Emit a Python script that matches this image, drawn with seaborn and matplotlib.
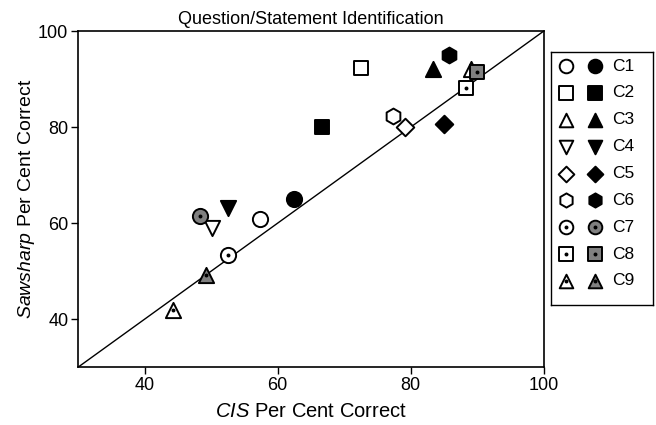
import matplotlib
matplotlib.use("Agg")
import matplotlib.pyplot as plt
import seaborn as sns
import pandas as pd

sns.set_theme(style="white")
plt.rcParams['font.family'] = ['Liberation Sans', 'DejaVu Sans']
plt.rcParams['mathtext.fontset'] = 'custom'
plt.rcParams['mathtext.it'] = 'Liberation Sans:italic'
plt.rcParams['mathtext.rm'] = 'Liberation Sans'

conditions = ["C1", "C2", "C3", "C4", "C5", "C6", "C7", "C8", "C9"]
markers = ["o", "s", "^", "v", "D", "h", "o", "s", "^"]
marker_sizes = [120, 110, 120, 120, 80, 130, 120, 110, 120]
has_dot = [False, False, False, False, False, False, True, True, True]
filled_color = ["black"] * 6 + ["#808080"] * 3

# open symbols (one set) and filled symbols (other set)
open_x = [57.4, 72.5, 89.0, 50.1, 79.2, 77.4, 52.5, 88.3, 44.3]
open_y = [60.9, 92.4, 92.0, 59.0, 80.0, 82.3, 53.3, 88.2, 41.9]
filled_x = [62.5, 66.7, 83.4, 52.6, 85.0, 85.8, 48.3, 90.0, 49.2]
filled_y = [65.1, 80.0, 92.0, 63.2, 80.6, 95.0, 61.4, 91.5, 49.1]

rows = []
for i, c in enumerate(conditions):
    rows.append(dict(cond=c, kind="open", x=open_x[i], y=open_y[i]))
    rows.append(dict(cond=c, kind="filled", x=filled_x[i], y=filled_y[i]))
df = pd.DataFrame(rows)

fig = plt.figure(figsize=(6.56, 4.25), dpi=100)
ax = fig.add_axes([0.119, 0.136, 0.710, 0.791])

ax.plot([30, 100], [30, 100], color="black", lw=1.0, zorder=1)

for i, c in enumerate(conditions):
    sub = df[df.cond == c]
    o = sub[sub.kind == "open"]
    f = sub[sub.kind == "filled"]
    sns.scatterplot(data=o, x="x", y="y", marker=markers[i], s=marker_sizes[i],
                    facecolor="white", edgecolor="black", linewidth=1.4,
                    ax=ax, zorder=3, legend=False)
    sns.scatterplot(data=f, x="x", y="y", marker=markers[i], s=marker_sizes[i],
                    color=filled_color[i], edgecolor="black", linewidth=1.4,
                    ax=ax, zorder=3, legend=False)
    if has_dot[i]:
        sns.scatterplot(data=sub, x="x", y="y", marker="o", s=8,
                        color="black", edgecolor="black", linewidth=0,
                        ax=ax, zorder=4, legend=False)

ax.set_xlim(30, 100)
ax.set_ylim(30, 100)
ax.set_xticks([40, 60, 80, 100])
ax.set_yticks([40, 60, 80, 100])
ax.tick_params(axis="both", direction="out", length=5, width=1, color="black",
               labelsize=13, labelcolor="black", bottom=True, left=True, pad=2)
for sp in ax.spines.values():
    sp.set_color("black")
    sp.set_linewidth(1.2)
ax.set_xlabel(r"$\it{CIS}$ Per Cent Correct", fontsize=14.5, color="black")
ax.set_ylabel(r"$\it{Sawsharp}$ Per Cent Correct", fontsize=14, color="black")
ax.xaxis.set_label_coords(0.5, -0.105)
ax.yaxis.set_label_coords(-0.088, 0.5)
ax.set_title("Question/Statement Identification", fontsize=13, color="black", pad=5)

# legend panel
lax = fig.add_axes([551 / 656, 1 - 305 / 425, 102 / 656, 253 / 425])
lax.set_xlim(0, 1)
lax.set_ylim(9.4, 0.45)
lax.set_xticks([])
lax.set_yticks([])
for sp in lax.spines.values():
    sp.set_color("black")
    sp.set_linewidth(1.0)
for i, c in enumerate(conditions):
    yy = i + 0.95 - 0.05 * i
    lax.scatter([0.15], [yy], marker=markers[i], s=marker_sizes[i] * 0.8,
                facecolor="white", edgecolor="black", linewidth=1.4, zorder=3)
    lax.scatter([0.43], [yy], marker=markers[i], s=marker_sizes[i] * 0.8,
                color=filled_color[i], edgecolor="black", linewidth=1.4, zorder=3)
    if has_dot[i]:
        lax.scatter([0.15, 0.43], [yy, yy], marker="o", s=8, color="black",
                    linewidth=0, zorder=4)
    lax.text(0.6, yy, c, fontsize=12.5, va="center", ha="left", color="black")

fig.savefig("out.png", dpi=100)
